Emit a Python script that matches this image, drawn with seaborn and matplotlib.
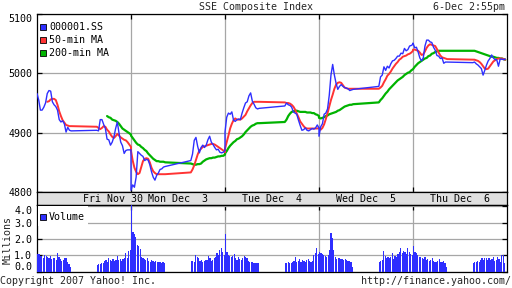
import numpy as np
import pandas as pd
import matplotlib
matplotlib.use("Agg")
import matplotlib.pyplot as plt
import seaborn as sns
from matplotlib.patches import Rectangle

# ---------------- data ----------------
day_labels = ["Fri Nov 30", "Mon Dec  3", "Tue Dec  4", "Wed Dec  5", "Thu Dec  6"]
price_ticks = [4800, 4900, 5000, 5100]
vol_ticks = [0.0, 1.0, 2.0, 3.0, 4.0]

# SSE index, sampled every 6 minutes (09:30-11:30 and 13:00-15:00)
idx_fri = [4966, 4955, 4938, 4938, 4943, 4950, 4966, 4971, 4970, 4952, 4947, 4944, 4938, 4922, 4918, 4920, 4915, 4901, 4909, 4904, 4903,
           4904, 4903, 4922, 4922, 4914, 4907, 4889, 4888, 4879, 4884, 4893, 4907, 4918, 4899, 4884, 4878, 4865, 4870, 4871, 4871, 4871]
idx_mon = [4803, 4812, 4808, 4825, 4868, 4865, 4862, 4860, 4853, 4855, 4854, 4846, 4834, 4825, 4820, 4828, 4832, 4838, 4839, 4842, 4843,
           4853, 4864, 4887, 4892, 4877, 4866, 4875, 4879, 4875, 4879, 4888, 4894, 4884, 4880, 4875, 4871, 4872, 4867, 4866, 4867, 4870]
idx_tue = [4901, 4926, 4933, 4931, 4935, 4921, 4919, 4922, 4923, 4922, 4933, 4942, 4950, 4952, 4962, 4967, 4953, 4948, 4942, 4940, 4941,
           4945, 4950, 4947, 4946, 4943, 4935, 4933, 4931, 4921, 4912, 4904, 4905, 4908, 4904, 4903, 4905, 4907, 4906, 4908, 4913, 4908]
idx_wed = [4894, 4910, 4915, 4931, 4933, 4940, 4963, 4997, 5015, 4997, 4983, 4973, 4978, 4981, 4978, 4976, 4975, 4974, 4971, 4972, 4973,
           4978, 4994, 4997, 5011, 5005, 5012, 5009, 5016, 5021, 5022, 5025, 5029, 5029, 5034, 5033, 5042, 5038, 5040, 5046, 5047, 5049]
idx_thu = [5051, 5043, 5044, 5036, 5026, 5021, 5026, 5046, 5056, 5056, 5053, 5052, 5044, 5039, 5030, 5029, 5025, 5026, 5017, 5019, 5019,
           5018, 5019, 5016, 5014, 5011, 5008, 4997, 5005, 5014, 5021, 5025, 5031, 5026, 5023, 5023, 5012, 5024, 5024, 5023, 5024]

# 50-min moving average
ma50_fri = [4952, 4953, 4956, 4957, 4957, 4955, 4947, 4936, 4928, 4921, 4917, 4913, 4912, 4911, 4911,
            4910, 4908, 4906, 4908, 4911, 4910, 4905, 4902, 4897, 4893, 4891, 4894, 4898, 4895, 4892, 4890, 4888, 4887, 4884, 4880, 4876]
ma50_mon = [4869, 4853, 4841, 4834, 4830, 4832, 4842, 4852, 4856, 4857, 4856, 4850, 4841, 4835, 4832, 4830, 4830, 4830, 4830, 4830, 4830,
            4833, 4838, 4845, 4854, 4863, 4870, 4873, 4876, 4877, 4878, 4879, 4880, 4881, 4881, 4880, 4878, 4876, 4874, 4872, 4870, 4867]
ma50_tue = [4873, 4884, 4895, 4907, 4915, 4921, 4924, 4922, 4922, 4922, 4924, 4927, 4930, 4936, 4941, 4946, 4950, 4952, 4952, 4952, 4952,
            4951, 4950, 4950, 4949, 4947, 4944, 4939, 4932, 4926, 4919, 4915, 4911, 4908, 4907, 4907, 4907, 4907, 4907, 4907, 4907, 4908]
ma50_wed = [4907, 4905, 4908, 4914, 4923, 4933, 4944, 4955, 4964, 4974, 4981, 4984, 4985, 4984, 4980, 4976, 4975, 4974, 4974, 4974, 4974,
            4974, 4976, 4979, 4985, 4990, 4996, 4999, 5003, 5008, 5012, 5016, 5019, 5023, 5025, 5028, 5029, 5030, 5032, 5033, 5035, 5038]
ma50_thu = [5040, 5040, 5039, 5038, 5035, 5031, 5032, 5037, 5043, 5047, 5049, 5048, 5047, 5046, 5041, 5035, 5030, 5027, 5026, 5025, 5024,
            5023, 5023, 5022, 5021, 5019, 5016, 5012, 5008, 5007, 5008, 5012, 5016, 5020, 5022, 5024, 5025, 5025, 5025, 5024, 5023]

# 200-min moving average
ma200_fri = [4928, 4926, 4925, 4922, 4921, 4920, 4918, 4915, 4911, 4907, 4905, 4903, 4901, 4899, 4897]
ma200_mon = [4895, 4891, 4887, 4883, 4880, 4879, 4876, 4874, 4871, 4869, 4865, 4862, 4859, 4856, 4854, 4852, 4852, 4851, 4851, 4851, 4850,
             4848, 4847, 4846, 4846, 4847, 4847, 4848, 4851, 4853, 4855, 4856, 4857, 4857, 4858, 4858, 4859, 4860, 4860, 4861, 4861, 4863]
ma200_tue = [4865, 4869, 4874, 4878, 4881, 4884, 4886, 4889, 4890, 4892, 4894, 4897, 4901, 4904, 4907, 4910, 4912, 4913, 4915, 4916, 4916,
             4918, 4922, 4928, 4932, 4935, 4936, 4937, 4937, 4936, 4935, 4935, 4935, 4935, 4934, 4934, 4934, 4933, 4933, 4931, 4930, 4928]
ma200_wed = [4925, 4924, 4925, 4926, 4928, 4929, 4931, 4932, 4933, 4934, 4935, 4937, 4938, 4940, 4942, 4944, 4945, 4946, 4947, 4947, 4948,
             4951, 4955, 4958, 4962, 4966, 4969, 4973, 4976, 4979, 4982, 4985, 4988, 4990, 4992, 4994, 4997, 4999, 5001, 5002, 5005, 5007]
ma200_thu = [5007, 5011, 5014, 5017, 5019, 5021, 5023, 5025, 5026, 5029, 5030, 5033, 5034, 5036, 5037, 5038, 5038, 5038, 5038, 5038, 5038,
             5038, 5038, 5037, 5036, 5035, 5034, 5033, 5032, 5031, 5030, 5029, 5028, 5028, 5027, 5026, 5026, 5025, 5025, 5024, 5023]

# volume in millions, 5-minute bars
vol_fri = [1.06, 1.06, 0.98, 0.95, 0.85, 1.0, 0.98, 0.92, 0.81, 0.98, 0.77, 0.85, 0.81, 0.71, 1.12, 0.92, 0.77, 0.65, 0.71, 0.81, 0.85, 0.57, 0.45, 0.31,
           0.41, 0.45, 0.47, 0.51, 0.55, 0.65, 0.71, 0.61, 0.85, 0.71, 0.65, 0.77, 0.65, 0.71, 0.98, 0.71, 0.77, 0.65, 0.77, 0.85, 1.12, 0.85, 1.25, 1.3]
vol_mon = [4.3, 2.45, 2.3, 2.1, 1.65, 1.55, 1.4, 0.92, 0.85, 0.77, 0.71, 0.85, 0.65, 0.61, 0.71, 0.65, 0.61, 0.65, 0.61, 0.57, 0.57, 0.55, 0.57, 0.55,
           0.65, 0.65, 0.61, 1.04, 0.92, 0.85, 0.65, 0.71, 0.61, 0.65, 0.71, 0.71, 0.98, 0.81, 0.65, 0.71, 0.81, 0.9, 1.12, 1.02, 1.33, 1.45, 1.22, 1.0]
vol_tue = [2.3, 1.22, 1.04, 0.98, 0.92, 0.98, 1.06, 0.81, 0.71, 0.92, 0.77, 0.71, 0.81, 0.98, 0.92, 0.85, 0.65, 0.61, 0.6, 0.6, 0.55, 0.55, 0.5, 0.5,
           0.51, 0.55, 0.57, 0.51, 0.51, 0.57, 0.65, 0.88, 0.61, 0.65, 0.77, 0.61, 0.71, 0.65, 0.61, 0.71, 0.77, 0.65, 0.61, 0.65, 1.02, 1.12, 1.45, 1.06]
vol_wed = [1.22, 1.12, 1.06, 1.02, 0.98, 0.92, 1.02, 1.33, 2.35, 2.04, 1.33, 0.92, 0.77, 0.85, 0.81, 0.77, 0.77, 0.71, 0.77, 0.71, 0.65, 0.65, 0.61, 0.31,
           0.57, 0.65, 0.71, 1.27, 0.98, 0.81, 0.92, 0.85, 0.92, 1.12, 0.77, 0.98, 0.92, 1.06, 1.22, 1.47, 1.12, 1.27, 1.22, 1.1, 1.43, 1.2, 1.1, 1.0]
vol_thu = [1.6, 1.22, 1.12, 1.02, 0.92, 0.92, 0.85, 0.77, 0.92, 0.71, 0.77, 0.65, 0.71, 0.85, 0.65, 0.57, 0.61, 0.65, 0.77, 0.57, 0.6, 0.65, 0.5, 0.31,
           0.51, 0.57, 0.57, 0.65, 0.61, 0.71, 0.85, 0.71, 0.81, 0.85, 0.71, 0.81, 0.71, 0.77, 0.92, 0.65, 0.71, 0.92, 0.75, 0.6, 1.02, 1.02, 0.55]

# ---------------- time axis helpers ----------------
DAY = 330                       # minutes from 09:30 to 15:00 (lunch kept on the axis)
grid6 = np.concatenate([np.arange(0, 121, 6), np.arange(210, 331, 6)])
grid5 = np.concatenate([np.arange(0, 120, 5), np.arange(210, 330, 5)])


def frame(days, grid):
    rows = []
    for d, vals in enumerate(days):
        n = len(vals)
        t = grid[-n:] if d == 0 else grid[:n]
        rows.append(pd.DataFrame({"t": t + d * DAY, "v": vals}))
    return pd.concat(rows, ignore_index=True)


df_idx = frame([idx_fri, idx_mon, idx_tue, idx_wed, idx_thu], grid6)
df_ma50 = frame([ma50_fri, ma50_mon, ma50_tue, ma50_wed, ma50_thu], grid6)
df_ma200 = frame([ma200_fri, ma200_mon, ma200_tue, ma200_wed, ma200_thu], grid6)
df_vol = frame([vol_fri, vol_mon, vol_tue, vol_wed, vol_thu], grid5)

# ---------------- style ----------------
sns.set_theme(style="white")
plt.rcParams["font.family"] = ["DejaVu Sans Mono"]
plt.rcParams["font.size"] = 7.2

BLUE = "#2e2eff"
RED = "#ff3333"
GREEN = "#00b300"
GRID = "#a6a6a6"
BAND = "#e0e0e0"
FS = 7.2
W, H = 512, 288

fig = plt.figure(figsize=(5.12, 2.88), dpi=100)
fig.patch.set_facecolor("white")


def fx(px):
    return px / W


def fy(py):
    return 1 - py / H


ax = fig.add_axes([fx(37), fy(192), fx(470), 178 / H])
band = fig.add_axes([fx(37), fy(205), fx(470), 13 / H])
axv = fig.add_axes([fx(37), fy(271.6), fx(470), 66.6 / H])

xmax = 5 * DAY
day_edges = [DAY * i for i in range(1, 5)]

# ---- price panel ----
sns.lineplot(data=df_ma200, x="t", y="v", ax=ax, color=GREEN, lw=1.6, estimator=None, sort=False, zorder=3)
sns.lineplot(data=df_ma50, x="t", y="v", ax=ax, color=RED, lw=1.4, estimator=None, sort=False, zorder=4)
sns.lineplot(data=df_idx, x="t", y="v", ax=ax, color=BLUE, lw=1.0, estimator=None, sort=False, zorder=5)
ax.set_xlim(0, xmax)
ax.set_ylim(4800, 5100)
ax.set_xticks(day_edges)
ax.set_xticklabels([])
ax.set_yticks(price_ticks)
ax.set_yticklabels([str(v) for v in price_ticks])
ax.set_xlabel("")
ax.set_ylabel("")

# ---- volume panel ----
axv.bar(df_vol["t"], df_vol["v"], width=4.2, align="edge", color=BLUE, linewidth=0, zorder=3)
axv.set_xlim(0, xmax)
axv.set_ylim(0, 4.086)
axv.set_xticks(day_edges)
axv.set_xticklabels([])
axv.set_yticks(vol_ticks)
axv.set_yticklabels([f"{v:.1f}" for v in vol_ticks])

for a in (ax, axv):
    a.set_facecolor("white")
    a.grid(True, color=GRID, lw=0.9, zorder=0)
    a.set_axisbelow(True)
    for s in a.spines.values():
        s.set_color("black")
        s.set_linewidth(0.9)
    a.tick_params(direction="in", length=3.6, width=0.9, color="black",
                  top=True, right=True, left=True, bottom=True,
                  labelsize=FS, labelcolor="black", pad=3.4)

# edge tick labels pulled inside the panel like the original
ax.yaxis.get_major_ticks()[-1].label1.set_verticalalignment("top")
axv.yaxis.get_major_ticks()[-1].label1.set_verticalalignment("top")
axv.yaxis.get_major_ticks()[0].label1.set_verticalalignment("bottom")

# ---- date band ----
band.set_facecolor(BAND)
band.set_xlim(0, xmax)
band.set_ylim(0, 1)
band.set_xticks([])
band.set_yticks([])
for s in band.spines.values():
    s.set_color("black")
    s.set_linewidth(0.9)
label_pos = [267] + [DAY * i + DAY / 2 for i in range(1, 5)]
for xpos, lab in zip(label_pos, day_labels):
    band.text(xpos, 0.48, lab, ha="center", va="center", fontsize=FS, color="black")

# ---- legends ----
def legend_entry(a, px, py, color, text):
    # px, py: pixel position (top-left origin) of the swatch centre
    fig.patches.append(Rectangle((fx(px - 3), fy(py + 3)), fx(6), 6 / H, transform=fig.transFigure,
                                 facecolor=color, edgecolor="black", linewidth=0.6, zorder=10))
    fig.text(fx(px + 6), fy(py), text, ha="left", va="center", fontsize=FS, color="black", zorder=10)

fig.patches.append(Rectangle((fx(37.5), fy(226)), fx(50), 20 / H, transform=fig.transFigure,
                             facecolor="white", edgecolor="none", zorder=9))
legend_entry(ax, 43, 27, BLUE, "000001.SS")
legend_entry(ax, 43, 40, RED, "50-min MA")
legend_entry(ax, 43, 53, GREEN, "200-min MA")
legend_entry(axv, 43, 217, BLUE, "Volume")

# ---- texts ----
fig.text(fx(256), fy(7), "SSE Composite Index", ha="center", va="center", fontsize=FS)
fig.text(fx(505), fy(7), "6-Dec 2:55pm", ha="right", va="center", fontsize=FS)
fig.text(fx(8), fy(240), "Millions", ha="center", va="center", rotation=90, fontsize=FS)
fig.text(fx(0), fy(281), "Copyright 2007 Yahoo! Inc.", ha="left", va="center", fontsize=FS)
fig.text(fx(511), fy(281), "http://finance.yahoo.com/", ha="right", va="center", fontsize=FS)

fig.savefig("out.png", dpi=100, facecolor="white")
